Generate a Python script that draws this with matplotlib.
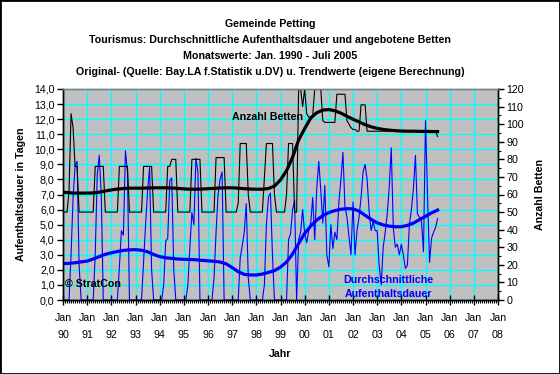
import numpy as np
import matplotlib.pyplot as plt
from matplotlib.ticker import MultipleLocator, FuncFormatter
from matplotlib.patches import Rectangle

plt.rcParams['font.family'] = ['Liberation Sans', 'DejaVu Sans']

# Monatswerte Jan. 1990 - Juli 2005
# Durchschnittliche Aufenthaltsdauer in Tagen (linke Achse)
dauer = [
    0, 0, 0, 0, 3.0, 6.8, 8.9, 9.2, 2.3, 0, 0, 0,          # 1990
    0, 0, 0, 0, 3.0, 8.3, 9.6, 7.0, 0, 0, 0, 0,            # 1991
    0, 0, 0, 0, 2.2, 4.6, 4.3, 9.9, 8.5, 0, 0, 0,          # 1992
    0, 0, 0, 0, 2.5, 5.0, 7.2, 8.8, 2.0, 0, 0, 0,          # 1993
    0, 0, 1.0, 3.9, 4.1, 7.9, 8.1, 2.0, 0, 0, 0, 0,        # 1994
    0, 0, 1.0, 3.5, 5.8, 5.0, 9.4, 8.5, 0, 0, 0, 0,        # 1995
    0, 0, 0, 1.5, 4.5, 7.0, 8.0, 8.5, 0, 0, 0, 0,          # 1996
    0, 0, 0, 0, 2.8, 3.6, 4.5, 6.4, 1.5, 0, 0, 0,          # 1997
    0, 0, 0, 0, 1.0, 5.0, 6.8, 7.1, 3.0, 0, 0, 0,          # 1998
    0, 0, 0, 0, 4.0, 4.4, 6.0, 6.6, 0, 4.0, 4.5, 6.0,      # 1999
    4.4, 3.8, 4.6, 5.1, 6.8, 4.0, 7.4, 9.2, 7.3, 5.1, 7.6, 3.0,   # 2000
    2.2, 5.0, 3.4, 4.5, 4.0, 6.5, 8.0, 9.8, 6.2, 5.5, 4.2, 3.0,   # 2001
    6.5, 3.0, 4.6, 5.5, 6.8, 8.5, 9.0, 8.0, 5.9, 4.6, 5.2, 4.6,   # 2002
    4.6, 2.3, 1.0, 3.5, 4.5, 5.7, 7.5, 10.1, 4.8, 3.5, 3.7, 3.0,  # 2003
    3.7, 3.0, 2.1, 2.3, 5.0, 6.0, 7.4, 9.6, 5.7, 5.5, 5.2, 3.2,   # 2004
    11.9, 7.0, 2.5, 4.1, 4.5, 4.8, 5.4,                           # 2005
]

# Anzahl Betten (rechte Achse)
betten = [
    50, 50, 50, 62, 106, 98, 76, 76, 50, 50, 50, 50,        # 1990
    50, 50, 50, 50, 76, 76, 76, 76, 76, 50, 50, 50,         # 1991
    50, 50, 50, 50, 76, 76, 76, 76, 76, 50, 50, 50,         # 1992
    50, 50, 50, 50, 76, 76, 76, 76, 76, 50, 50, 50,         # 1993
    50, 50, 50, 50, 76, 76, 80, 80, 80, 50, 50, 50,         # 1994
    50, 50, 50, 50, 80, 80, 80, 80, 80, 50, 50, 50,         # 1995
    50, 50, 50, 50, 81, 81, 81, 81, 81, 50, 50, 50,         # 1996
    50, 50, 50, 55, 89, 89, 89, 89, 60, 50, 50, 50,         # 1997
    50, 50, 50, 50, 70, 89, 89, 89, 89, 60, 50, 50,         # 1998
    50, 50, 50, 60, 89, 89, 89, 50, 50, 120, 120, 110,      # 1999
    120, 106, 104, 104, 105, 120, 120, 120, 120, 102, 101, 101,  # 2000
    101, 101, 101, 101, 117, 117, 117, 117, 117, 102, 100, 98,   # 2001
    97, 97, 96, 96, 111, 111, 111, 96, 96, 96, 96, 96,           # 2002
    96, 96, 96, 96, 96, 96, 96, 96, 96, 96, 96, 96,              # 2003
    96, 96, 96, 96, 96, 96, 96, 96, 96, 96, 96, 96,              # 2004
    96, 96, 96, 96, 96, 96, 93,                                  # 2005
]

# Trendwerte (eigene Berechnung), quartalsweise Jan/Apr/Jul/Okt
dauer_trend = [
    2.41, 2.43, 2.47, 2.53,  2.58, 2.72, 2.88, 3.03,  3.13, 3.22, 3.29, 3.33,
    3.34, 3.30, 3.20, 3.02,  2.88, 2.80, 2.76, 2.72,  2.70, 2.69, 2.67, 2.63,
    2.60, 2.57, 2.52, 2.40,  2.15, 1.88, 1.70, 1.66,  1.66, 1.72, 1.83, 1.95,
    2.18, 2.52, 3.05, 3.75,  4.42, 4.90, 5.30, 5.60,  5.80, 5.93, 6.02, 6.06,
    6.05, 5.90, 5.62, 5.35,  5.12, 4.98, 4.90, 4.86,  4.86, 4.95, 5.10, 5.33,
    5.55, 5.78, 5.97,
]
betten_trend = [
    61.3, 61.0, 60.8, 60.8,  60.8, 60.9, 61.3, 62.0,  62.6, 63.1, 63.4, 63.6,
    63.6, 63.6, 63.7, 63.8,  63.8, 63.8, 63.7, 63.5,  63.2, 63.0, 63.0, 63.1,
    63.3, 63.5, 63.7, 63.8,  63.8, 63.6, 63.3, 63.1,  63.0, 63.0, 63.4, 64.8,
    68.3, 73.6, 81.2, 91.0,  97.5, 103.5, 106.5, 108.0,  108.3, 107.6, 106.3, 104.5,
    102.8, 101.3, 99.7, 98.5,  97.6, 97.0, 96.6, 96.3,  96.1, 96.0, 96.0, 95.9,
    95.9, 95.8, 95.8,
]

jahre = list(range(1990, 2009))
jahr_labels = ['Jan\n%02d' % (j % 100) for j in jahre]

t_mon = 1990 + np.arange(len(dauer)) / 12.0
t_trend = 1990 + np.arange(len(dauer_trend)) * 3 / 12.0

fs = 7.7

fig = plt.figure(figsize=(5.6, 3.74), dpi=100)
fig.patch.set_facecolor('white')
ax = fig.add_axes([63/560, 1-300/374, 435/560, 211/374])
ax.set_facecolor('#c0c0c0')

ax.set_xlim(1990, 2008)
ax.set_ylim(0, 14)
ax.set_xticks(jahre)
ax.set_xticklabels(jahr_labels)
ax.xaxis.set_minor_locator(MultipleLocator(1/12))
ax.yaxis.set_major_locator(MultipleLocator(1))
ax.yaxis.set_major_formatter(FuncFormatter(lambda v, p: ('%.1f' % v).replace('.', ',')))
ax.grid(True, color='#00ffff', lw=1.0)
ax.set_axisbelow(True)

ax.plot(t_mon, dauer, color='#0000ff', lw=0.8)
ax.plot(t_trend, dauer_trend, color='#0000ff', lw=2.3)

ax2 = ax.twinx()
ax2.set_ylim(0, 120)
ax2.yaxis.set_major_locator(MultipleLocator(10))
ax2.yaxis.set_minor_locator(MultipleLocator(5))
ax2.plot(t_mon, betten, color='black', lw=0.8)
ax2.plot(t_trend, betten_trend, color='black', lw=2.3)

for a in (ax, ax2):
    for s in a.spines.values():
        s.set_color('black')
        s.set_linewidth(1.0)
    a.spines['top'].set_color('#808080')
ax.tick_params(axis='x', which='major', direction='inout', length=7, width=1,
               labelsize=fs, pad=6)
ax.tick_params(axis='x', which='minor', direction='out', length=2, width=0.8)
ax.tick_params(axis='y', direction='out', length=4, width=1, labelsize=fs, pad=2)
ax2.tick_params(axis='y', which='major', direction='out', length=4, width=1,
                labelsize=fs, pad=2)
ax2.tick_params(axis='y', which='minor', direction='out', length=2, width=0.8)
for lab in ax.get_xticklabels():
    lab.set_linespacing(1.8)

ax.set_ylabel('Aufenthaltsdauer in Tagen', fontsize=fs, fontweight='bold', labelpad=6)
ax2.set_ylabel('Anzahl Betten', fontsize=fs, fontweight='bold', labelpad=8)
ax.set_xlabel('Jahr', fontsize=fs, fontweight='bold', labelpad=7)

ax.text(1998.45, 12.15, 'Anzahl Betten', fontsize=fs, fontweight='bold',
        ha='center', va='center', color='black')
ax.text(2003.45, 0.85, 'Durchschnittliche\nAufenthaltsdauer', fontsize=fs,
        fontweight='bold', ha='center', va='center', color='#0000ff', linespacing=1.5)
ax.text(1990.1, 1.05, '© StratCon', fontsize=fs, fontweight='bold',
        ha='left', va='center', color='black')

titel = ['Gemeinde Petting',
         'Tourismus: Durchschnittliche Aufenthaltsdauer und angebotene Betten',
         'Monatswerte: Jan. 1990 - Juli 2005',
         'Original- (Quelle: Bay.LA f.Statistik u.DV) u. Trendwerte (eigene Berechnung)']
for i, zeile in enumerate(titel):
    fig.text(270/560, 1 - (24 + 16*i)/374, zeile, fontsize=fs, fontweight='bold',
             ha='center', va='center')

fig.patches.append(Rectangle((0, 0), 1, 1, transform=fig.transFigure, fill=False,
                             edgecolor='black', lw=2))

fig.savefig('out.png', dpi=100)
